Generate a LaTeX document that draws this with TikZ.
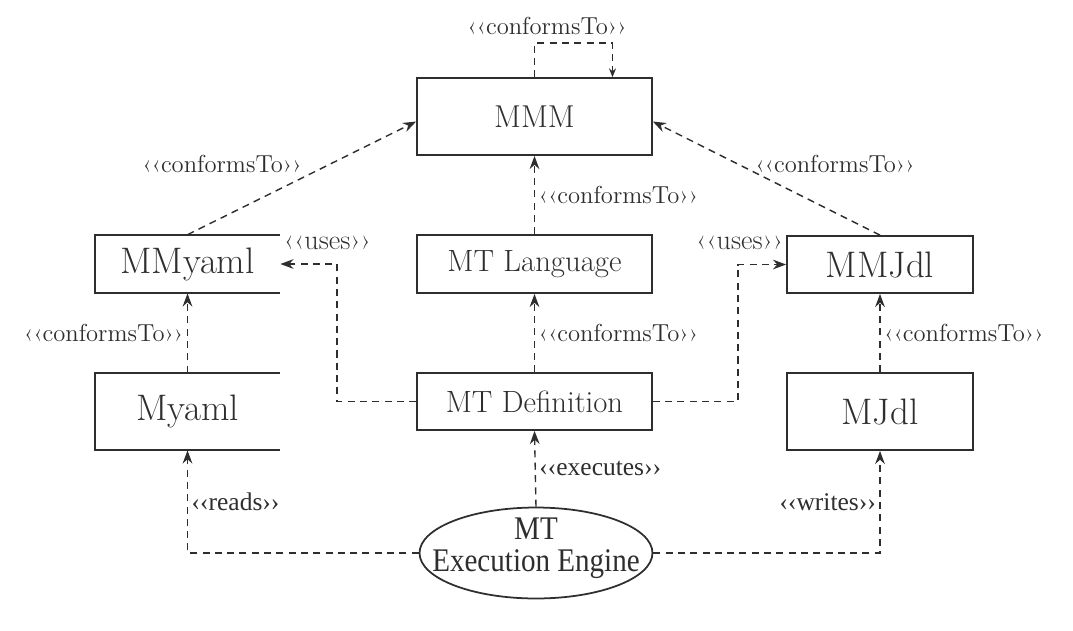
\documentclass[tikz,border=0pt]{standalone}
\usepackage{fontspec}
\usepackage{tikz}
\usetikzlibrary{arrows.meta,shapes.geometric}
\newfontfamily\timesfont{Liberation Serif}
\newfontfamily\condtimes[FakeStretch=0.88]{Liberation Serif}
\definecolor{inkgray}{HTML}{2E2E2E}
\newcommand{\stereo}[1]{\guilsinglleft\guilsinglleft#1\guilsinglright\guilsinglright}

\begin{document}
\begin{tikzpicture}[x=0.02cm,y=-0.02cm,
   mbox/.style={draw=inkgray,line width=1pt,inner sep=0pt,text=inkgray,
     font=\fontsize{17.5}{19}\selectfont},
   obox/.style={inner sep=0pt,text=inkgray,font=\fontsize{21}{23}\selectfont},
   dep/.style={draw=inkgray,line width=0.8pt,dash pattern=on 4pt off 3pt,
     -{Stealth[length=7.5pt,width=5.5pt]}},
   lbl/.style={text=inkgray,inner sep=2pt,font=\fontsize{14}{16}\selectfont},
   tlbl/.style={lbl,font=\timesfont\fontsize{14.5}{16}\selectfont}]

 \useasboundingbox (0,0) rectangle (1073,630);

 % metamodel level
 \node[mbox,minimum width=4.7cm,minimum height=1.54cm,font=\fontsize{18}{20}\selectfont] (mmm) at (534.5,116.5) {MMM};
 \node[mbox,minimum width=4.7cm,minimum height=1.16cm] (mtlang) at (534.5,264) {MT Language};
 \node[mbox,minimum width=4.7cm,minimum height=1.14cm] (mtdef) at (534.5,401.5) {MT Definition};
 \node[obox,minimum width=3.7cm,minimum height=1.16cm] (mmyaml) at (187.5,264) {MMyaml};
 \node[obox,minimum width=3.7cm,minimum height=1.54cm] (myaml) at (187.5,411.5) {Myaml};
 \node[obox,draw=inkgray,line width=1pt,minimum width=3.72cm,minimum height=1.14cm] (mmjdl) at (880,264.5) {MMJdl};
 \node[obox,draw=inkgray,line width=1pt,minimum width=3.72cm,minimum height=1.54cm] (mjdl) at (880,411.5) {MJdl};
 \foreach \n in {mmyaml,myaml}
  \draw[inkgray,line width=1pt] (\n.north east) -- (\n.north west) -- (\n.south west) -- (\n.south east);

 \node[ellipse,draw=inkgray,line width=1pt,minimum width=4.66cm,minimum height=1.82cm] (engine) at (536,553) {};
 \node[align=center,inner sep=0pt,text=inkgray,font=\condtimes\fontsize{18.8}{18}\selectfont] (enginetxt) at (536,548.5) {MT\\Execution Engine};

 % conformsTo
 \draw[dep,-{Stealth[length=5pt,width=4pt]}] (mmm.north) -- ++(0,-34) -| ([xshift=1.56cm]mmm.north);
 \node[lbl] (selflbl) at (547,26) {\stereo{conformsTo}};
 \draw[dep] (mmyaml.north) -- ([yshift=-0.1cm]mmm.west);
 \node[lbl] (leftlbl) at (222,164) {\stereo{conformsTo}};
 \draw[dep] (mmjdl.north) -- ([yshift=-0.1cm]mmm.east);
 \node[lbl] (rightlbl) at (835,164) {\stereo{conformsTo}};
 \draw[dep] (mtlang.north) -- node[lbl,right] {\stereo{conformsTo}} (mmm.south);
 \draw[dep] (mtdef.north) -- node[lbl,right] {\stereo{conformsTo}} (mtlang.south);
 \draw[dep] (myaml.north) -- node[lbl,left] {\stereo{conformsTo}} (mmyaml.south);
 \draw[dep] (mjdl.north) -- node[lbl,right] {\stereo{conformsTo}} (mmjdl.south);

 % uses
 \draw[dep] (mtdef.west) -- ++(-79,0) |- (mmyaml.east);
 \node[lbl,font=\fontsize{16}{17}\selectfont,anchor=west] (useslft) at (280,243) {\stereo{uses}};
 \draw[dep] (mtdef.east) -- ++(85,0) |- (mmjdl.west);
 \node[lbl,font=\fontsize{16}{17}\selectfont,anchor=east] (usesrgt) at (787,243) {\stereo{uses}};

 % engine
 \draw[dep] (engine.north) -- node[tlbl,right] {\stereo{executes}} (mtdef.south);
 \draw[dep] (engine.west) -| node[tlbl,right,pos=0.75] {\stereo{reads}} (myaml.south);
 \draw[dep] (engine.east) -| node[tlbl,left,pos=0.75] {\stereo{writes}} (mjdl.south);

\end{tikzpicture}
\end{document}
